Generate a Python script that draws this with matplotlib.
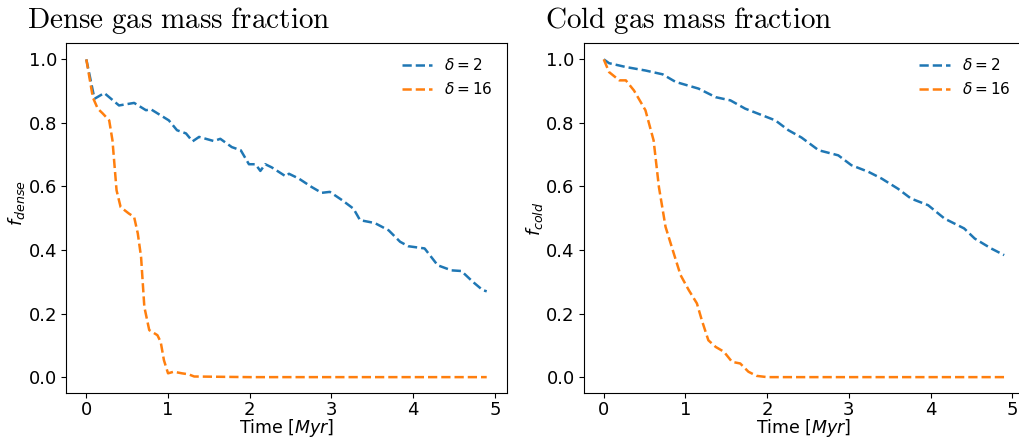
import matplotlib

matplotlib.use("Agg")
import matplotlib.pyplot as plt

# Dense gas mass fraction (left panel)
dense_t_d2 = [0.0, 0.10, 0.22, 0.40, 0.585, 0.73, 0.79, 1.01, 1.11, 1.22, 1.30, 1.38,
              1.56, 1.64, 1.78, 1.89, 1.99, 2.07, 2.13, 2.19, 2.27, 2.44, 2.48, 2.60,
              2.76, 2.88, 2.98, 3.13, 3.27, 3.35, 3.53, 3.70, 3.84, 3.94, 4.14, 4.30,
              4.47, 4.59, 4.73, 4.85, 4.90]
dense_f_d2 = [1.0, 0.876, 0.894, 0.855, 0.863, 0.840, 0.843, 0.808, 0.777, 0.767, 0.742, 0.756,
              0.743, 0.750, 0.724, 0.714, 0.670, 0.670, 0.649, 0.670, 0.660, 0.632, 0.640, 0.625,
              0.598, 0.580, 0.583, 0.557, 0.530, 0.494, 0.485, 0.462, 0.426, 0.412, 0.405, 0.352,
              0.336, 0.334, 0.300, 0.274, 0.270]

dense_t_d16 = [0.0, 0.08, 0.14, 0.20, 0.28, 0.32, 0.37, 0.42, 0.52, 0.585, 0.63, 0.67,
               0.71, 0.77, 0.87, 0.91, 0.95, 1.00, 1.07, 1.17, 1.25, 1.32, 2.0, 3.0, 4.0, 4.9]
dense_f_d16 = [1.0, 0.880, 0.845, 0.830, 0.808, 0.745, 0.588, 0.535, 0.515, 0.504, 0.452, 0.378,
               0.221, 0.148, 0.132, 0.111, 0.053, 0.012, 0.017, 0.012, 0.009, 0.002, 0.0, 0.0, 0.0, 0.0]

# Cold gas mass fraction (right panel)
cold_t_d2 = [0.0, 0.065, 0.27, 0.51, 0.72, 0.88, 1.16, 1.37, 1.55, 1.73, 1.94, 2.10,
             2.26, 2.42, 2.63, 2.87, 3.03, 3.24, 3.40, 3.60, 3.76, 3.97, 4.17, 4.41,
             4.54, 4.74, 4.90]
cold_f_d2 = [1.0, 0.988, 0.976, 0.965, 0.953, 0.929, 0.908, 0.881, 0.871, 0.845, 0.824, 0.808,
             0.777, 0.754, 0.714, 0.698, 0.667, 0.646, 0.625, 0.593, 0.562, 0.541, 0.499, 0.468,
             0.436, 0.405, 0.384]

cold_t_d16 = [0.0, 0.065, 0.19, 0.27, 0.37, 0.51, 0.61, 0.675, 0.756, 0.857, 0.94, 1.04,
              1.14, 1.20, 1.28, 1.37, 1.47, 1.57, 1.67, 1.77, 1.87, 2.0, 3.0, 4.0, 4.9]
cold_f_d16 = [1.0, 0.960, 0.934, 0.934, 0.902, 0.840, 0.745, 0.598, 0.473, 0.389, 0.321, 0.274,
              0.232, 0.179, 0.116, 0.095, 0.080, 0.048, 0.043, 0.017, 0.004, 0.0, 0.0, 0.0, 0.0]

panels = [
    ("Dense gas mass fraction", r"$f_{dense}$", dense_t_d2, dense_f_d2, dense_t_d16, dense_f_d16),
    ("Cold gas mass fraction", r"$f_{cold}$", cold_t_d2, cold_f_d2, cold_t_d16, cold_f_d16),
]

fig = plt.figure(figsize=(10.2, 4.38), dpi=100)
axes_left = [0.065, 0.5723]
title_x = [27 / 1020, 545 / 1020]
ylabel_y = [0.543, 0.5]

for i, (title, ylabel, t2, f2, t16, f16) in enumerate(panels):
    ax = fig.add_axes([axes_left[i], 0.1027, 0.4318, 0.798])
    ax.plot(t2, f2, "--", color="#1f77b4", linewidth=1.8, label=r"$\delta = 2$")
    ax.plot(t16, f16, "--", color="#ff7f0e", linewidth=1.8, label=r"$\delta = 16$")
    ax.set_xticks([0, 1, 2, 3, 4, 5])
    ax.set_yticks([0.0, 0.2, 0.4, 0.6, 0.8, 1.0])
    ax.tick_params(labelsize=13, pad=3)
    ax.tick_params(axis="x", pad=2)
    ax.set_xlabel(r"Time [$Myr$]", fontsize=12.5, labelpad=-1)
    ax.set_ylabel(ylabel, fontsize=13)
    ax.yaxis.set_label_coords(-0.089, ylabel_y[i])
    ax.legend(loc="upper right", frameon=False, fontsize=11)
    title_tex = r"$\mathrm{" + title.replace(" ", r"\ ") + "}$"
    fig.text(title_x[i], 0.918, title_tex, fontsize=21, math_fontfamily="cm",
             ha="left", va="bottom")

fig.savefig("out.png", dpi=100)
